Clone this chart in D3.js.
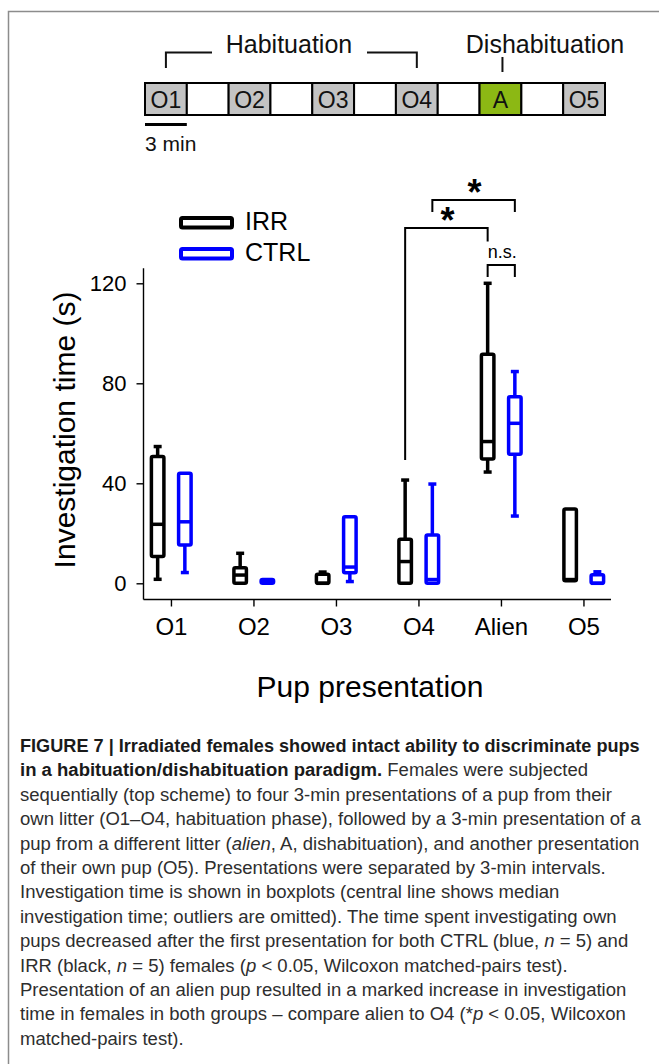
<!DOCTYPE html>
<html>
<head>
<meta charset="utf-8">
<script src="https://cdn.jsdelivr.net/npm/d3@7/dist/d3.min.js"></script>
<style>
  html, body { margin: 0; padding: 0; background: #fff; }
  svg { display: block; font-family: "Liberation Sans", Arial, Helvetica, sans-serif; }
</style>
</head>
<body>
<svg id="fig" width="659" height="1064"></svg>
<script>
// ---- data ----
const categories = ["O1", "O2", "O3", "O4", "Alien", "O5"];
const yTicks = [0, 40, 80, 120];

// IRR (black) box statistics per presentation
const irrMin = [1.6, 0, 0, 0, 44.5, 1];
const irrQ1  = [10.7, 0, 0, 0, 49.7, 1];
const irrMed = [23.6, 3.3, 0, 8.7, 56.7, 1.5];
const irrQ3  = [50.7, 6.2, 3.6, 17.6, 91.6, 29.7];
const irrMax = [54.7, 12, 4.5, 41.3, 120, 29.7];

// CTRL (blue) box statistics per presentation
const ctrlMin = [4.3, 0, 0.7, 0, 26.9, 0];
const ctrlQ1  = [15.3, 0, 4.2, 0, 51.6, 0];
const ctrlMed = [24.6, 0.5, 6.5, 1.5, 64, 0];
const ctrlQ3  = [44, 1.5, 26.6, 19.3, 74.6, 3.4];
const ctrlMax = [44, 1.5, 26.6, 39.7, 84.7, 4.6];

// timeline scheme
const schemeLabels = ["O1", "", "O2", "", "O3", "", "O4", "", "A", "", "O5"];
const schemeKinds  = ["own", "gap", "own", "gap", "own", "gap", "own", "gap", "alien", "gap", "own"];

// significance annotations: [from category, group, to category, group]
const brackets = [
  { a: ["O4", "irr"],  b: ["Alien", "irr"],  top: 228, drop: [460, 241.5], label: "*" },
  { a: ["O4", "ctrl"], b: ["Alien", "ctrl"], top: 200, drop: [212, 212],   label: "*" },
  { a: ["Alien", "irr"], b: ["Alien", "ctrl"], top: 265, drop: [277, 277], label: "n.s." }
];

const caption = [
  [["b", "FIGURE 7 | Irradiated females showed intact ability to discriminate pups"]],
  [["b", "in a habituation/dishabituation paradigm."], ["r", " Females were subjected"]],
  [["r", "sequentially (top scheme) to four 3-min presentations of a pup from their"]],
  [["r", "own litter (O1–O4, habituation phase), followed by a 3-min presentation of a"]],
  [["r", "pup from a different litter ("], ["i", "alien"], ["r", ", A, dishabituation), and another presentation"]],
  [["r", "of their own pup (O5). Presentations were separated by 3-min intervals."]],
  [["r", "Investigation time is shown in boxplots (central line shows median"]],
  [["r", "investigation time; outliers are omitted). The time spent investigating own"]],
  [["r", "pups decreased after the first presentation for both CTRL (blue, "], ["i", "n"], ["r", " = 5) and"]],
  [["r", "IRR (black, "], ["i", "n"], ["r", " = 5) females ("], ["i", "p"], ["r", " < 0.05, Wilcoxon matched-pairs test)."]],
  [["r", "Presentation of an alien pup resulted in a marked increase in investigation"]],
  [["r", "time in females in both groups – compare alien to O4 (*"], ["i", "p"], ["r", " < 0.05, Wilcoxon"]],
  [["r", "matched-pairs test)."]]
];

// ---- drawing ----
const svg = d3.select("#fig");
const BLACK = "#000000", BLUE = "#0000ff";

// panel frame (top and left edges)
svg.append("path")
  .attr("d", "M8.5,1064 V11.5 H659")
  .attr("fill", "none").attr("stroke", "#8c8c8c").attr("stroke-width", 1.5);

// --- timeline scheme ---
const sx = d3.scaleBand().domain(d3.range(schemeLabels.length)).range([145, 605]).padding(0);
const schemeFill = { own: "#c3c3c3", gap: "#ffffff", alien: "#8cb814" };
const sch = svg.append("g");
sch.selectAll("rect").data(schemeLabels).join("rect")
  .attr("x", (d, i) => sx(i)).attr("y", 83)
  .attr("width", sx.bandwidth()).attr("height", 32)
  .attr("fill", (d, i) => schemeFill[schemeKinds[i]])
  .attr("stroke", "#000").attr("stroke-width", 2);
sch.selectAll("text.lab").data(schemeLabels).join("text")
  .attr("class", "lab")
  .attr("x", (d, i) => sx(i) + sx.bandwidth() / 2).attr("y", 108)
  .attr("text-anchor", "middle").attr("font-size", 23).attr("fill", "#111")
  .text(d => d);

const c0 = sx(0) + sx.bandwidth() / 2, c6 = sx(6) + sx.bandwidth() / 2, c8 = sx(8) + sx.bandwidth() / 2;
sch.append("path")
  .attr("d", `M${c0},68 V52.5 H212 M367,52.5 H${c6} V68`)
  .attr("fill", "none").attr("stroke", "#111").attr("stroke-width", 2);
sch.append("text").attr("x", 289).attr("y", 53).attr("text-anchor", "middle")
  .attr("font-size", 25).attr("fill", "#111").text("Habituation");
sch.append("path").attr("d", `M${c8 + 2},57 V72`)
  .attr("stroke", "#111").attr("stroke-width", 2);
sch.append("text").attr("x", 545).attr("y", 53).attr("text-anchor", "middle")
  .attr("font-size", 25).attr("fill", "#111").text("Dishabituation");
// scale bar
sch.append("line").attr("x1", sx(0)).attr("x2", sx(1)).attr("y1", 124.5).attr("y2", 124.5)
  .attr("stroke", "#000").attr("stroke-width", 3);
sch.append("text").attr("x", 145).attr("y", 151).attr("font-size", 21).attr("fill", "#111").text("3 min");

// --- box plot ---
const x = d3.scaleBand().domain(categories).range([130.2, 625.2]).padding(0);
const y = d3.scaleLinear().domain([0, 120]).range([583.3, 283.3]);
const xc = c => x(c) + x.bandwidth() / 2;
const offset = { irr: -13.8, ctrl: 13.4 };

// axes
const yAxis = d3.axisLeft(y).tickValues(yTicks).tickSize(7).tickPadding(10);
const gy = svg.append("g").attr("transform", "translate(143.5,0)").call(yAxis);
gy.select(".domain").remove();
gy.append("line").attr("x1", 0).attr("x2", 0).attr("y1", y(126)).attr("y2", 599.5)
  .attr("stroke", "#000").attr("stroke-width", 1.4);
gy.selectAll(".tick line").attr("stroke-width", 1.4);
gy.selectAll(".tick text").attr("font-size", 22).attr("fill", "#000")
  .attr("font-family", "\"Liberation Sans\", Arial, sans-serif");

const xAxis = d3.axisBottom(x).tickSize(7).tickPadding(11);
const gx = svg.append("g").attr("transform", "translate(0,599.5)").call(xAxis);
gx.select(".domain").remove();
gx.append("line").attr("x1", 143.5).attr("x2", 611).attr("y1", 0).attr("y2", 0)
  .attr("stroke", "#000").attr("stroke-width", 1.4);
gx.selectAll(".tick line").attr("stroke-width", 1.4);
gx.selectAll(".tick text").attr("font-size", 24).attr("fill", "#000")
  .attr("font-family", "\"Liberation Sans\", Arial, sans-serif");

svg.append("text").attr("transform", "translate(75,430) rotate(-90)")
  .attr("text-anchor", "middle").attr("font-size", 30).attr("fill", "#000")
  .text("Investigation time (s)");
svg.append("text").attr("x", 370).attr("y", 697).attr("text-anchor", "middle")
  .attr("font-size", 30).attr("fill", "#000").text("Pup presentation");

// boxes
function series(key, color, mn, q1, md, q3, mx) {
  const rows = categories.map((c, i) => ({ c, min: mn[i], q1: q1[i], med: md[i], q3: q3[i], max: mx[i] }));
  const g = svg.append("g").attr("stroke", color).attr("fill", "none")
    .attr("stroke-width", 3.5).attr("stroke-linejoin", "round");
  const cx = d => xc(d.c) + offset[key];
  const bw = 12.5, cap = 8;
  // whiskers
  g.selectAll("line.wu").data(rows.filter(d => d.max > d.q3)).join("line")
    .attr("x1", cx).attr("x2", cx).attr("y1", d => y(d.q3)).attr("y2", d => y(d.max));
  g.selectAll("line.wl").data(rows.filter(d => d.min < d.q1)).join("line")
    .attr("class", "wl")
    .attr("x1", cx).attr("x2", cx).attr("y1", d => y(d.q1)).attr("y2", d => y(d.min));
  g.selectAll("line.cu").data(rows.filter(d => d.max > d.q3)).join("line")
    .attr("class", "cu")
    .attr("x1", d => cx(d) - cap / 2).attr("x2", d => cx(d) + cap / 2)
    .attr("y1", d => y(d.max)).attr("y2", d => y(d.max));
  g.selectAll("line.cl").data(rows.filter(d => d.min < d.q1)).join("line")
    .attr("class", "cl")
    .attr("x1", d => cx(d) - cap / 2).attr("x2", d => cx(d) + cap / 2)
    .attr("y1", d => y(d.min)).attr("y2", d => y(d.min));
  // boxes
  g.selectAll("rect").data(rows).join("rect")
    .attr("x", d => cx(d) - bw / 2).attr("width", bw)
    .attr("y", d => y(d.q3)).attr("height", d => Math.max(0.01, y(d.q1) - y(d.q3)))
    .attr("rx", 1.5).attr("fill", "#fff");
  // medians
  g.selectAll("line.md").data(rows).join("line")
    .attr("class", "md")
    .attr("x1", d => cx(d) - bw / 2).attr("x2", d => cx(d) + bw / 2)
    .attr("y1", d => y(d.med)).attr("y2", d => y(d.med));
}
series("irr", BLACK, irrMin, irrQ1, irrMed, irrQ3, irrMax);
series("ctrl", BLUE, ctrlMin, ctrlQ1, ctrlMed, ctrlQ3, ctrlMax);

// significance brackets
const bg = svg.append("g");
brackets.forEach(b => {
  const xa = xc(b.a[0]) + offset[b.a[1]], xb = xc(b.b[0]) + offset[b.b[1]];
  bg.append("path")
    .attr("d", `M${xa},${b.drop[0]} V${b.top} H${xb} V${b.drop[1]}`)
    .attr("fill", "none").attr("stroke", "#000").attr("stroke-width", 2);
  if (b.label === "*") {
    bg.append("text").attr("x", (xa + xb) / 2 + 1).attr("y", b.top + 5)
      .attr("text-anchor", "middle").attr("font-size", 36).attr("font-weight", "bold")
      .attr("fill", "#000").text("*");
  } else {
    bg.append("text").attr("x", (xa + xb) / 2 + 1).attr("y", b.top - 7)
      .attr("text-anchor", "middle").attr("font-size", 18).attr("fill", "#000").text(b.label);
  }
});

// legend
const legend = [{ name: "IRR", color: BLACK }, { name: "CTRL", color: BLUE }];
const lg = svg.append("g");
legend.forEach((d, i) => {
  lg.append("rect").attr("x", 181).attr("y", 218 + i * 31).attr("width", 51).attr("height", 9.5)
    .attr("rx", 1.5).attr("fill", "none").attr("stroke", d.color).attr("stroke-width", 4);
  lg.append("text").attr("x", 245).attr("y", 229.5 + i * 31).attr("font-size", 25)
    .attr("fill", "#000").text(d.name);
});

// caption: bold heading fitted to the column width, body text slightly wider
const cap = svg.append("g").attr("font-family", "\"Liberation Sans\", Arial, sans-serif")
  .attr("font-size", 18.5);
const lines = caption.map((segs, i) => {
  const t = cap.append("text").attr("x", 0).attr("y", 0).attr("fill", "#2e2e2e");
  segs.forEach(([k, s]) => {
    const sp = t.append("tspan").text(s);
    if (k === "b") sp.attr("font-weight", "bold").attr("fill", "#1a1a1a");
    if (k === "i") sp.attr("font-style", "italic");
  });
  return t;
});
const sHead = 620 / lines[0].node().getComputedTextLength();
const sBody = 620 / lines[4].node().getComputedTextLength();
lines.forEach((t, i) => t.attr("transform",
  `translate(20,${752 + i * 24.4}) scale(${i === 0 ? sHead : sBody},1)`));
</script>
</body>
</html>
